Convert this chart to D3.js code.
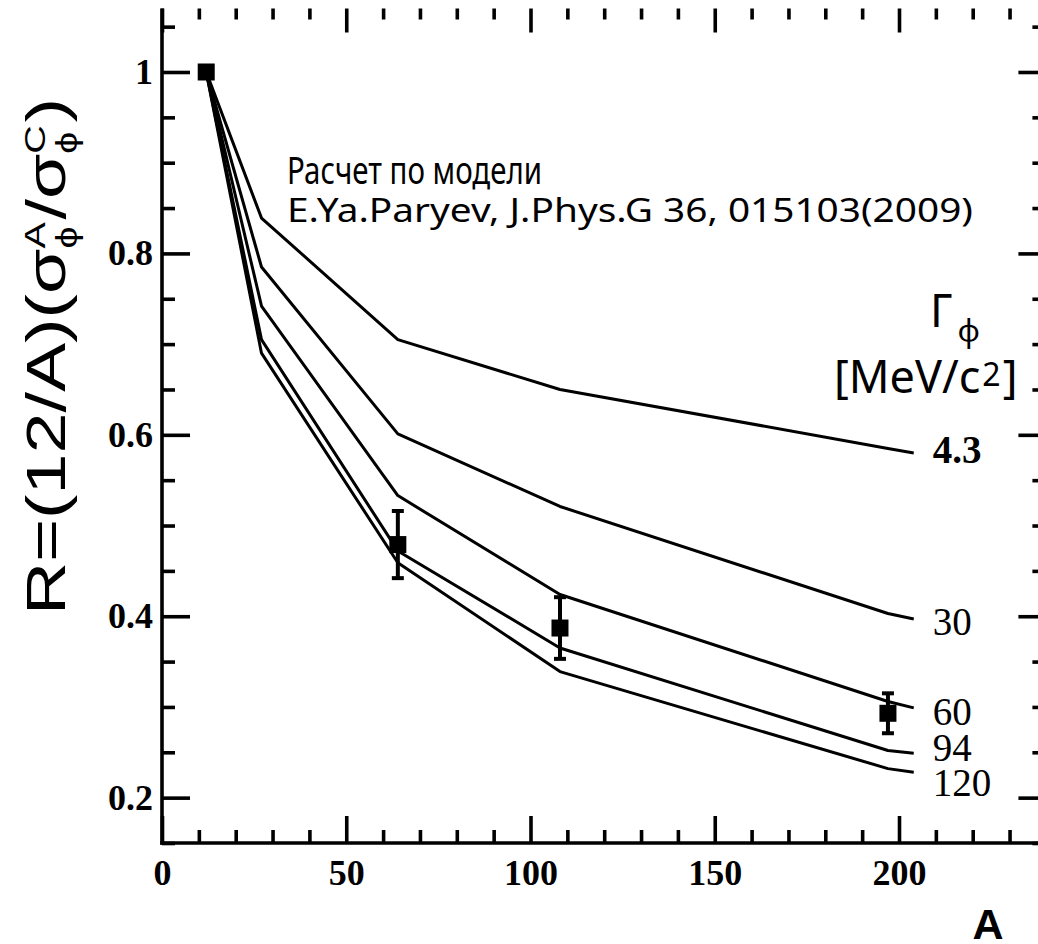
<!DOCTYPE html>
<html><head><meta charset="utf-8">
<script src="https://cdn.jsdelivr.net/npm/d3@7"></script>
<style>body{margin:0;background:#fff}</style>
</head><body>
<svg id="chart" width="1038" height="944"></svg>
<script>
// ---- data ----
const massNumbers = [12, 27, 64, 108, 197, 204];
const widthLabels = ["4.3", "30", "60", "94", "120"];
const r_w4_3 = [1.0, 0.839, 0.705, 0.650, 0.585, 0.580];
const r_w30  = [1.0, 0.785, 0.601, 0.521, 0.403, 0.397];
const r_w60  = [1.0, 0.742, 0.533, 0.424, 0.306, 0.299];
const r_w94  = [1.0, 0.705, 0.472, 0.365, 0.252, 0.249];
const r_w120 = [1.0, 0.690, 0.459, 0.339, 0.232, 0.228];
const labelR = [0.5835, 0.394, 0.2948, 0.255, 0.2165];
const expA   = [12, 64, 108, 197];
const expR   = [1.0, 0.479, 0.387, 0.293];
const expErr = [0, 0.037, 0.034, 0.022];
const xTickValues = [0, 50, 100, 150, 200];
const xTickLabels = ["0", "50", "100", "150", "200"];
const yTickValues = [0.2, 0.4, 0.6, 0.8, 1.0];
const yTickLabels = ["0.2", "0.4", "0.6", "0.8", "1"];

const series = [r_w4_3, r_w30, r_w60, r_w94, r_w120];

// ---- layout ----
const svg = d3.select("#chart");
const L = 162, B = 843, T = 8.5, R = 1046.4;
const x = d3.scaleLinear().domain([0, 240]).range([L, R]);
const y = d3.scaleLinear().domain([0.15, 1.07]).range([B, T]);

const serif = "'Liberation Serif', 'Times New Roman', serif";
const sans = "'Liberation Sans', Arial, sans-serif";
const noto = "'Noto Sans', 'DejaVu Sans', sans-serif";
const AXW = 3.6;

const xMinor = d3.range(0, 241, 10).filter(v => v % 50 !== 0);
const yMinor = d3.range(0.15, 1.07, 0.05).map(v => +v.toFixed(2)).filter(v => Math.abs(Math.round(v * 5) - v * 5) > 1e-6);

function styleAxis(g, fontFamily, fontSize, weight) {
  g.selectAll("line").attr("stroke", "#000").attr("stroke-width", AXW);
  g.selectAll("path.domain").attr("stroke", "#000").attr("stroke-width", AXW);
  g.selectAll("text").attr("font-family", fontFamily).attr("font-size", fontSize)
    .attr("font-weight", weight).attr("fill", "#000");
}

// bottom axis major
const gxB = svg.append("g").attr("transform", `translate(0,${B})`)
  .call(d3.axisBottom(x).tickValues(xTickValues).tickFormat((d, i) => xTickLabels[i])
    .tickSizeInner(-27).tickSizeOuter(0).tickPadding(16));
styleAxis(gxB, serif, 36, "bold");
gxB.select("path.domain").attr("d", `M${L - AXW / 2},0H${R}`);
// bottom minor
const gxBm = svg.append("g").attr("transform", `translate(0,${B})`)
  .call(d3.axisBottom(x).tickValues(xMinor).tickFormat("").tickSizeInner(-13).tickSizeOuter(0));
gxBm.select("path.domain").remove();
styleAxis(gxBm, serif, 10, "normal");

// top ticks
const gxT = svg.append("g").attr("transform", `translate(0,${T})`)
  .call(d3.axisTop(x).tickValues(xTickValues).tickFormat("").tickSizeInner(-24).tickSizeOuter(0));
gxT.select("path.domain").remove();
styleAxis(gxT, serif, 10, "normal");
const gxTm = svg.append("g").attr("transform", `translate(0,${T})`)
  .call(d3.axisTop(x).tickValues(xMinor).tickFormat("").tickSizeInner(-11).tickSizeOuter(0));
gxTm.select("path.domain").remove();
styleAxis(gxTm, serif, 10, "normal");

// left axis
const gyL = svg.append("g").attr("transform", `translate(${L},0)`)
  .call(d3.axisLeft(y).tickValues(yTickValues).tickFormat((d, i) => yTickLabels[i])
    .tickSizeInner(-28).tickSizeOuter(0).tickPadding(9));
styleAxis(gyL, serif, 36, "bold");
gyL.select("path.domain").attr("d", `M0,${T}V${B + AXW / 2}`);
const gyLm = svg.append("g").attr("transform", `translate(${L},0)`)
  .call(d3.axisLeft(y).tickValues(yMinor).tickFormat("").tickSizeInner(-13).tickSizeOuter(0));
gyLm.select("path.domain").remove();
styleAxis(gyLm, serif, 10, "normal");

// right axis
const gyR = svg.append("g").attr("transform", `translate(${R},0)`)
  .call(d3.axisRight(y).tickValues(yTickValues).tickFormat("").tickSizeInner(-28).tickSizeOuter(0));
styleAxis(gyR, serif, 10, "normal");
const gyRm = svg.append("g").attr("transform", `translate(${R},0)`)
  .call(d3.axisRight(y).tickValues(yMinor).tickFormat("").tickSizeInner(-14).tickSizeOuter(0));
gyRm.select("path.domain").remove();
styleAxis(gyRm, serif, 10, "normal");

// ---- curves ----
const line = d3.line().x((d, i) => x(massNumbers[i])).y(d => y(d));
svg.append("g").selectAll("path").data(series).join("path")
  .attr("d", d => line(d)).attr("fill", "none").attr("stroke", "#000")
  .attr("stroke-width", 3).attr("stroke-linejoin", "round");

// curve labels
svg.append("g").selectAll("text").data(widthLabels).join("text")
  .attr("x", x(massNumbers[massNumbers.length - 1]) + 19)
  .attr("y", (d, i) => y(labelR[i]))
  .attr("dy", "0.34em")
  .attr("font-family", serif).attr("font-size", 39)
  .attr("font-weight", (d, i) => i === 0 ? "bold" : "normal")
  .text(d => d);

// ---- experimental points ----
const pts = svg.append("g");
expA.forEach((a, i) => {
  const cx = x(a), cy = y(expR[i]);
  if (expErr[i] > 0) {
    const y1 = y(expR[i] + expErr[i]), y2 = y(expR[i] - expErr[i]);
    pts.append("line").attr("x1", cx).attr("x2", cx).attr("y1", y1).attr("y2", y2)
      .attr("stroke", "#000").attr("stroke-width", 4);
    [y1, y2].forEach(yy => pts.append("line").attr("x1", cx - 6).attr("x2", cx + 6)
      .attr("y1", yy).attr("y2", yy).attr("stroke", "#000").attr("stroke-width", 4));
  }
  pts.append("rect").attr("x", cx - 8.5).attr("y", cy - 8.5).attr("width", 17).attr("height", 17).attr("fill", "#000");
});

// ---- annotations ----
svg.append("text").attr("x", 287).attr("y", 184).attr("font-family", noto).attr("font-size", 39)
  .attr("textLength", 255).attr("lengthAdjust", "spacingAndGlyphs")
  .text("Расчет по модели");
svg.append("text").attr("x", 287).attr("y", 222).attr("font-family", noto).attr("font-size", 33)
  .attr("textLength", 686).attr("lengthAdjust", "spacingAndGlyphs")
  .text("E.Ya.Paryev, J.Phys.G 36, 015103(2009)");

const gam = svg.append("text").attr("x", 930).attr("y", 327).attr("font-family", noto).attr("font-size", 45);
gam.append("tspan").text("Γ");
gam.append("tspan").attr("font-size", 31).attr("dy", 15).attr("dx", 5).text("ϕ");

const mev = svg.append("text").attr("x", 834).attr("y", 393).attr("font-family", noto).attr("font-size", 45);
mev.append("tspan").text("[MeV/c");
mev.append("tspan").attr("font-size", 32).attr("dy", -7).attr("dx", 2).text("2");
mev.append("tspan").attr("dy", 7).attr("dx", 2).text("]");

// x-axis title
svg.append("text").attr("x", 988).attr("y", 939).attr("text-anchor", "middle")
  .attr("font-family", sans).attr("font-weight", "bold").attr("font-size", 43).text("A");

// y-axis title (rotated)
const yt = svg.append("g");
const yt2 = yt.append("g");
const F = 56, f = 30;
let u = 0;
function piece(txt, size, v) {
  const t = yt2.append("text").attr("x", u).attr("y", v).attr("font-family", sans)
    .attr("font-size", size).text(txt);
  const w = t.node().getComputedTextLength();
  return {t, w};
}
let p = piece("R=(12/A)(σ", F, 0); u += p.w;
let s1 = piece("A", f, -20); let s2 = piece("ϕ", f, 12); u += Math.max(s1.w, s2.w) + 2;
p = piece("/σ", F, 0); u += p.w;
s1 = piece("C", f, -20); s2 = piece("ϕ", f, 12); u += Math.max(s1.w, s2.w) + 2;
p = piece(")", F, 0); u += p.w;
const sx = 517 / u;
yt2.attr("transform", `scale(${sx},1)`);
yt.attr("transform", `translate(65,615) rotate(-90)`);
</script>
</body></html>
